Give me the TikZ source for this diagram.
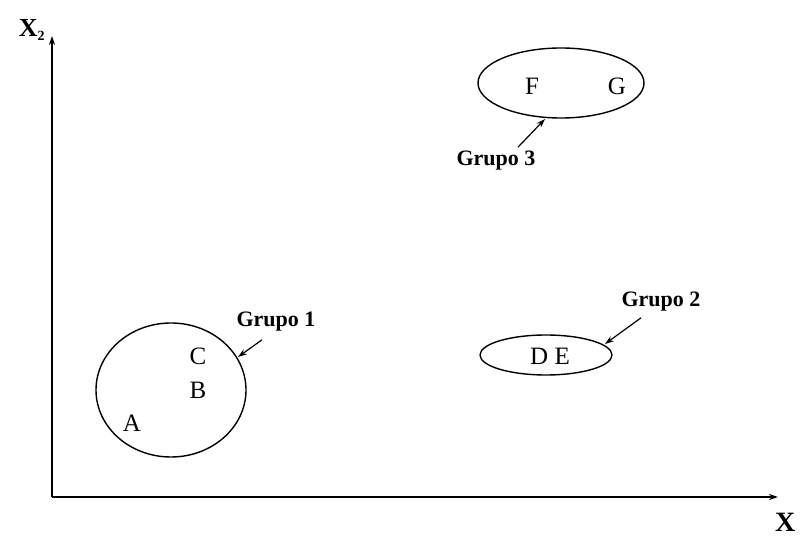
\documentclass[tikz,border=0pt]{standalone}
\usepackage{fontspec}
\setmainfont{Liberation Serif}
\usetikzlibrary{arrows.meta}
\begin{document}
\begin{tikzpicture}[x=1pt,y=-1pt,
  axis/.style={line width=2.2pt,-{Stealth[length=9pt,width=6pt]}},
  grp/.style={draw,line width=1.4pt},
  pt/.style={font=\fontsize{25}{25}\selectfont,inner sep=0pt},
  lbl/.style={font=\fontsize{22}{22}\selectfont\bfseries,inner sep=0pt},
  ptr/.style={line width=1.2pt,-{Stealth[length=9pt,width=6pt]}}]
\useasboundingbox (0,0) rectangle (804,537);
% axes
\coordinate (O) at (52,497);
\coordinate (ytop) at (52,36);
\coordinate (xend) at (778,497);
\draw[axis] (O) -- (ytop);
\draw[axis] (O) -- (xend);
\node[font=\fontsize{26}{26}\selectfont\bfseries,inner sep=0pt] (ylab) at (32,30) {X\textsubscript{\fontsize{14}{14}\selectfont 2}};
\node[font=\fontsize{28}{28}\selectfont\bfseries,inner sep=0pt,anchor=west] (xlab) at (775,522) {X};
% group 1
\draw[grp] (171,390) ellipse [x radius=75,y radius=67];
\node[pt] (C) at (198,356) {C};
\node[pt] (B) at (198,390) {B};
\node[pt] (A) at (132,423) {A};
\node[lbl] (g1) at (276,322) {Grupo 1};
\coordinate (g1tip) at (238,357);
\draw[ptr] ([shift={(-14,8)}]g1.south) -- (g1tip);
% group 2
\draw[grp] (546,355) ellipse [x radius=66,y radius=20];
\node[pt] (DE) at (550,356) {D E};
\node[lbl] (g2) at (661,302) {Grupo 2};
\coordinate (g2tip) at (605,344);
\draw[ptr] ([shift={(-20,6)}]g2.south) -- (g2tip);
% group 3
\draw[grp] (561,83) ellipse [x radius=83,y radius=35];
\node[pt] (F) at (532,86) {F};
\node[pt] (G) at (617,86) {G};
\node[lbl] (g3) at (496,161) {Grupo 3};
\coordinate (g3tip) at (545,119);
\draw[ptr] ([shift={(22,-4)}]g3.north) -- (g3tip);
\end{tikzpicture}
\end{document}
